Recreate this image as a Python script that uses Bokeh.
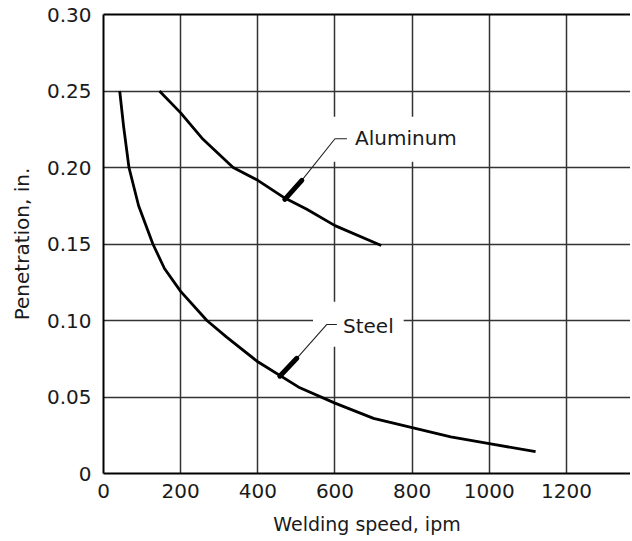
from bokeh.plotting import figure
from bokeh.models import Range1d, FixedTicker, LinearAxis, Label
from bokeh.embed import file_html
from bokeh.resources import INLINE

# ---- data ----
steel_speed = [42, 52, 66, 91, 128, 158, 200, 268, 320, 400, 509, 600, 700, 800, 900, 1000, 1120]
steel_pen = [0.25, 0.227, 0.20, 0.175, 0.15, 0.134, 0.119, 0.100, 0.089, 0.073, 0.056, 0.046, 0.036, 0.030, 0.024, 0.0195, 0.0143]

aluminum_speed = [145, 200, 258, 336, 400, 470, 527, 600, 720]
aluminum_pen = [0.25, 0.2357, 0.2184, 0.20, 0.1916, 0.180, 0.1727, 0.162, 0.149]

x_ticks = [0, 200, 400, 600, 800, 1000, 1200]
y_ticks = [0, 0.05, 0.10, 0.15, 0.20, 0.25, 0.30]
y_tick_labels = ["0", "0.05", "0.10", "0.15", "0.20", "0.25", "0.30"]

# annotation leaders: tip, arrow-head end, bend, end
al_leader_x = [470, 514, 600, 631]
al_leader_y = [0.1792, 0.1916, 0.2188, 0.2188]
st_leader_x = [457, 501, 579, 605]
st_leader_y = [0.0636, 0.0753, 0.0974, 0.0974]
# label box anchors (left edge of the white box that breaks the grid)
al_label_pos = (569, 0.2185)
st_label_pos = (543, 0.0975)

FONT = "DejaVu Sans"
INK = "#1a1a1a"

p = figure(width=630, height=539, output_backend="svg", toolbar_location=None,
           x_range=Range1d(0, 1366), y_range=Range1d(0, 0.30),
           min_border_left=103, min_border_top=14, min_border_right=0, min_border_bottom=66)
p.outline_line_color = None
p.background_fill_color = "white"

for ax in (p.xaxis[0], p.yaxis[0]):
    ax.axis_line_color = "black"
    ax.axis_line_width = 2
    ax.major_tick_out = 0
    ax.major_tick_in = 0
    ax.minor_tick_out = 0
    ax.minor_tick_in = 0
    ax.major_label_text_font = FONT
    ax.major_label_text_font_size = "20px"
    ax.major_label_text_color = INK
    ax.axis_label_text_font = FONT
    ax.axis_label_text_font_style = "normal"
    ax.axis_label_text_color = INK

p.xaxis.ticker = FixedTicker(ticks=x_ticks)
p.yaxis.ticker = FixedTicker(ticks=y_ticks)
p.yaxis.major_label_overrides = dict(zip(y_ticks, y_tick_labels))
p.xaxis.major_label_standoff = 10
p.yaxis.major_label_standoff = 12
p.xaxis.axis_label = "Welding speed, ipm"
p.yaxis.axis_label = "Penetration, in."
p.xaxis.axis_label_text_font_size = "19px"
p.yaxis.axis_label_text_font_size = "20px"
p.xaxis.axis_label_standoff = 12
p.yaxis.axis_label_standoff = 10

top = LinearAxis(ticker=FixedTicker(ticks=[]), axis_line_width=2, axis_line_color="black",
                 major_tick_out=0, major_tick_in=0, minor_tick_out=0, minor_tick_in=0,
                 major_label_text_font_size="0px", major_label_standoff=0)
p.add_layout(top, "above")

p.xgrid.ticker = FixedTicker(ticks=x_ticks)
p.ygrid.ticker = FixedTicker(ticks=y_ticks)
for g in (p.xgrid[0], p.ygrid[0]):
    g.grid_line_color = "#333333"
    g.grid_line_width = 1.5
    g.grid_line_alpha = 1.0

# gaps in the grid behind the labels (label boxes drawn under the curves)
p.add_layout(Label(x=al_label_pos[0], y=al_label_pos[1], text="Aluminum",
                   text_align="left", text_baseline="middle", text_font=FONT,
                   text_font_size="20px", text_color=INK, background_fill_color="white",
                   padding=dict(left=32, right=12, top=9, bottom=12), level="underlay"))
p.add_layout(Label(x=st_label_pos[0], y=st_label_pos[1], text="Steel",
                   text_align="left", text_baseline="middle", text_font=FONT,
                   text_font_size="20px", text_color=INK, background_fill_color="white",
                   padding=dict(left=30, right=10, top=12, bottom=9), level="underlay"))

p.line(steel_speed, steel_pen, line_color="black", line_width=2.8, line_join="round")
p.line(aluminum_speed, aluminum_pen, line_color="black", line_width=2.8, line_join="round")

for lx, ly in ((al_leader_x, al_leader_y), (st_leader_x, st_leader_y)):
    p.line(lx[1:], ly[1:], line_color="#222222", line_width=1.1)
    p.line(lx[:2], ly[:2], line_color="black", line_width=5, line_cap="round")

open("out.html", "w").write(file_html(p, INLINE))
